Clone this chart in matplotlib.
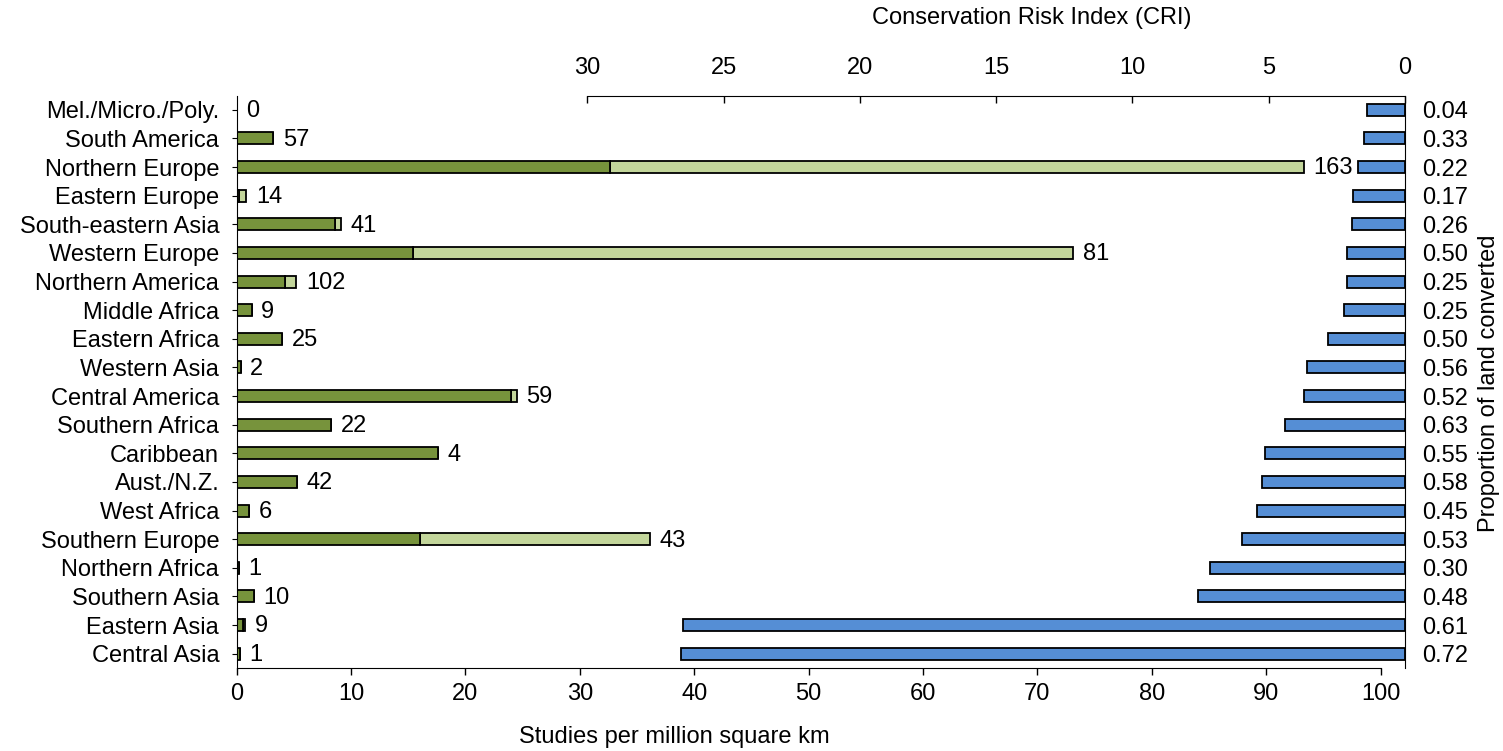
import matplotlib
matplotlib.use("Agg")
import matplotlib.pyplot as plt
import numpy as np

plt.rcParams["font.family"] = ["Liberation Sans", "DejaVu Sans"]

regions = [
    "Mel./Micro./Poly.", "South America", "Northern Europe", "Eastern Europe",
    "South-eastern Asia", "Western Europe", "Northern America", "Middle Africa",
    "Eastern Africa", "Western Asia", "Central America", "Southern Africa",
    "Caribbean", "Aust./N.Z.", "West Africa", "Southern Europe",
    "Northern Africa", "Southern Asia", "Eastern Asia", "Central Asia",
]

# studies per million km2: dark segment and total bar length
studies_dark = [0, 3.2, 32.6, 0.25, 8.6, 15.4, 4.25, 1.31, 4.0, 0.35,
                24.0, 8.28, 17.6, 5.3, 1.08, 16.0, 0.2, 1.49, 0.6, 0.3]
studies_total = [0, 3.2, 93.3, 0.85, 9.15, 73.1, 5.2, 1.31, 4.0, 0.35,
                 24.5, 8.28, 17.6, 5.3, 1.08, 36.1, 0.2, 1.49, 0.75, 0.3]
study_counts = ["0", "57", "163", "14", "41", "81", "102", "9", "25", "2",
                "59", "22", "4", "42", "6", "43", "1", "10", "9", "1"]

cri = [1.40, 1.50, 1.71, 1.90, 1.96, 2.12, 2.12, 2.24, 2.84, 3.58,
       3.70, 4.40, 5.14, 5.23, 5.42, 5.97, 7.14, 7.58, 26.49, 26.56]
land_converted = ["0.04", "0.33", "0.22", "0.17", "0.26", "0.50", "0.25", "0.25",
                  "0.50", "0.56", "0.52", "0.63", "0.55", "0.58", "0.45", "0.53",
                  "0.30", "0.48", "0.61", "0.72"]

DARK = "#77933C"
LIGHT = "#C3D69B"
BLUE = "#558ED5"
FS = 17

fig = plt.figure(figsize=(15.03, 7.51), dpi=100)
ax = fig.add_axes([0.1574, 0.1105, 0.9348 - 0.1574, 0.8728 - 0.1105])

y = np.arange(len(regions))
h = 0.42
dark = np.array(studies_dark)
total = np.array(studies_total)

ax.barh(y, total - dark, left=dark, height=h, color=LIGHT, edgecolor="black", linewidth=1.3)
ax.barh(y, dark, height=h, color=DARK, edgecolor="black", linewidth=1.3)
for yi, t, lab in zip(y, total, study_counts):
    ax.annotate(lab, (t, yi), xytext=(7, -1), textcoords="offset points",
                va="center", ha="left", fontsize=FS)

ax.set_xlim(0, 102.14)
ax.set_ylim(19.5, -0.5)
ax.set_xticks(np.arange(0, 101, 10))
ax.set_yticks(y)
ax.set_yticklabels(regions)
ax.tick_params(axis="y", left=False, pad=9, labelsize=FS)
ax.tick_params(axis="x", direction="out", length=5, width=1, pad=6, labelsize=FS)
ax.spines["top"].set_visible(False)
ax.spines["right"].set_visible(False)
ax.spines["bottom"].set_bounds(0, 100)

# conservation risk index on reversed top axis
ax2 = ax.twiny()
ax2.barh(y, cri, left=0, height=h, color=BLUE, edgecolor="black", linewidth=1.3)
ax2.set_xlim(42.87, 0)
ax2.set_xticks(np.arange(0, 31, 5))
ax2.tick_params(axis="x", direction="in", length=5, width=1, pad=12, labelsize=FS)
for s in ["left", "right", "bottom"]:
    ax2.spines[s].set_visible(False)
ax2.spines["top"].set_bounds(0, 30)

# proportion of land converted on the right
ax3 = ax.twinx()
ax3.set_ylim(19.5, -0.5)
ax3.set_yticks(y)
ax3.set_yticklabels(land_converted)
ax3.tick_params(axis="y", right=False, pad=9, labelsize=FS)
for s in ["left", "top", "bottom"]:
    ax3.spines[s].set_visible(False)

fig.text(1032 / 1503, 1 - 18 / 751, "Conservation Risk Index (CRI)",
         ha="center", va="center", fontsize=FS)
fig.text(674 / 1503, 1 - 737 / 751, "Studies per million square km",
         ha="center", va="center", fontsize=FS)
fig.text(1489 / 1503, 1 - 383 / 751, "Proportion of land converted",
         ha="center", va="center", rotation=90, fontsize=FS)

fig.savefig("out.png", dpi=100)
